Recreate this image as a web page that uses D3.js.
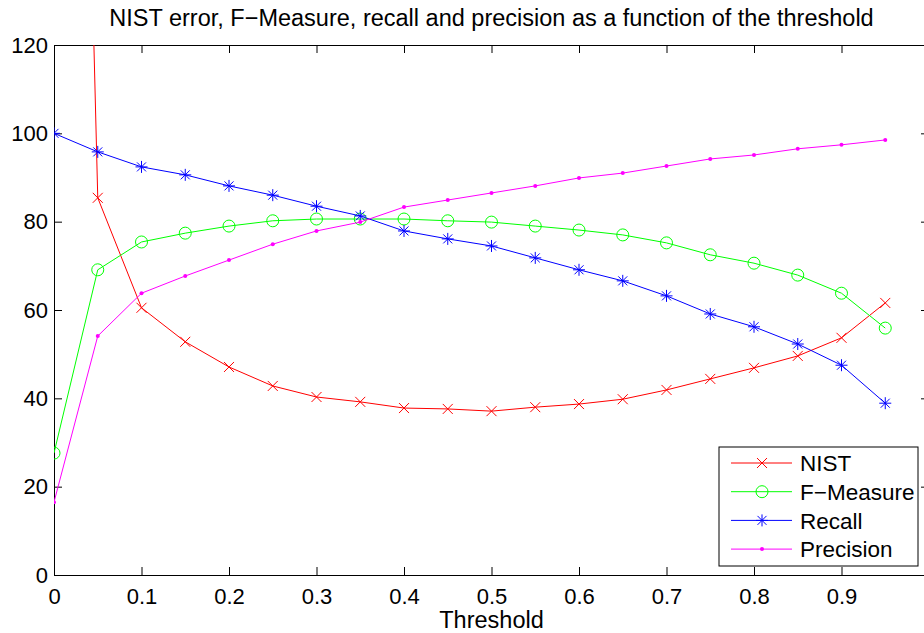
<!DOCTYPE html>
<meta charset="utf-8">
<style>
body { margin: 0; background: #fff; }
svg { display: block; font-family: "Liberation Sans", Arial, sans-serif; }
</style>
<body>
<svg width="924" height="633" id="vis"></svg>
<script src="https://d3js.org/d3.v7.min.js"></script>
<script>
var thresholds = [0, 0.05, 0.1, 0.15, 0.2, 0.25, 0.3, 0.35, 0.4, 0.45, 0.5,
                  0.55, 0.6, 0.65, 0.7, 0.75, 0.8, 0.85, 0.9, 0.95];
var nist      = [480, 85.4, 60.5, 52.8, 47.1, 42.8, 40.3, 39.2, 37.8, 37.6, 37.1,
                 38.0, 38.7, 39.8, 41.9, 44.4, 46.9, 49.6, 53.7, 61.6];
var fmeasure  = [27.6, 69.1, 75.4, 77.4, 79.0, 80.2, 80.6, 80.6, 80.6, 80.2, 79.9,
                 79.0, 78.1, 77.0, 75.2, 72.5, 70.6, 67.9, 63.8, 55.9];
var recall    = [100, 95.8, 92.4, 90.6, 88.1, 86.0, 83.5, 81.3, 77.9, 76.1, 74.5,
                 71.8, 69.1, 66.6, 63.2, 59.1, 56.2, 52.3, 47.5, 38.9];
var precision = [16.5, 54.1, 63.8, 67.7, 71.3, 74.9, 77.9, 79.9, 83.3, 84.9, 86.5,
                 88.1, 89.9, 91.0, 92.6, 94.2, 95.1, 96.5, 97.4, 98.5];
var xTicks = [0, 0.1, 0.2, 0.3, 0.4, 0.5, 0.6, 0.7, 0.8, 0.9, 1];
var yTicks = [0, 20, 40, 60, 80, 100, 120];

var series = [
  {name: "NIST", values: nist, color: "#ff0000", marker: "x"},
  {name: "F\u2212Measure", values: fmeasure, color: "#00ff00", marker: "o"},
  {name: "Recall", values: recall, color: "#0000ff", marker: "*"},
  {name: "Precision", values: precision, color: "#ff00ff", marker: "."}
];

var svg = d3.select("svg"),
    margin = {top: 45, right: -5, bottom: 58, left: 54},
    width = +svg.attr("width") - margin.left - margin.right,
    height = +svg.attr("height") - margin.top - margin.bottom;

var x = d3.scaleLinear().domain([0, 1]).range([0, width]);
var y = d3.scaleLinear().domain([0, 120]).range([height, 0]);

var g = svg.append("g")
    .attr("transform", "translate(" + margin.left + "," + margin.top + ")");

svg.append("defs").append("clipPath").attr("id", "clip")
  .append("rect").attr("width", width).attr("height", height);

// axes, ticks inside like matlab. the "1" label falls off the right edge, so leave it blank
var tickLen = 8;
g.append("g")
    .attr("transform", "translate(0," + height + ")")
    .call(d3.axisBottom(x).tickValues(xTicks).tickSizeInner(-tickLen).tickSizeOuter(0).tickPadding(13)
      .tickFormat(function(d){ return d === 1 ? "" : String(d); }));
g.append("g")
    .call(d3.axisTop(x).tickValues(xTicks).tickSizeInner(-tickLen).tickSizeOuter(0).tickFormat(""));
g.append("g")
    .call(d3.axisLeft(y).tickValues(yTicks).tickSizeInner(-tickLen).tickSizeOuter(0).tickPadding(6));
g.append("g")
    .attr("transform", "translate(" + width + ",0)")
    .call(d3.axisRight(y).tickValues(yTicks).tickSizeInner(-tickLen).tickSizeOuter(0).tickFormat(""));

g.selectAll(".domain").attr("stroke", "#000");
g.selectAll(".tick line").attr("stroke", "#000");
g.selectAll(".tick text").attr("font-size", 22).attr("fill", "#000")
    .attr("font-family", "'Liberation Sans', Arial, sans-serif");

function drawMarker(sel, type, color) {
  if (type === "x") {
    sel.append("path").attr("d", "M-5,-5L5,5M-5,5L5,-5")
      .attr("stroke", color).attr("fill", "none");
  } else if (type === "o") {
    sel.append("circle").attr("r", 6).attr("stroke", color).attr("fill", "none");
  } else if (type === "*") {
    sel.append("path").attr("d", "M-6,0L6,0M0,-6L0,6M-4.5,-4.5L4.5,4.5M-4.5,4.5L4.5,-4.5")
      .attr("stroke", color).attr("fill", "none");
  } else {
    sel.append("circle").attr("r", 2).attr("fill", color);
  }
}

var plot = g.append("g").attr("clip-path", "url(#clip)");
var line = d3.line()
    .x(function(d, i) { return x(thresholds[i]); })
    .y(function(d) { return y(d); });

series.forEach(function(s) {
  plot.append("path")
    .datum(s.values)
    .attr("fill", "none")
    .attr("stroke", s.color)
    .attr("stroke-width", 1)
    .attr("d", line);
  plot.selectAll(null).data(s.values).enter().append("g")
    .attr("transform", function(d, i) { return "translate(" + x(thresholds[i]) + "," + y(d) + ")"; })
    .each(function() { drawMarker(d3.select(this), s.marker, s.color); });
});

// title and label
svg.append("text")
    .attr("x", margin.left + x(0.5)).attr("y", 26)
    .attr("text-anchor", "middle").attr("font-size", 23.5)
    .text("NIST error, F\u2212Measure, recall and precision as a function of the threshold");
svg.append("text")
    .attr("x", margin.left + x(0.5)).attr("y", 628)
    .attr("text-anchor", "middle").attr("font-size", 23.5)
    .text("Threshold");

// legend
var legend = svg.append("g").attr("transform", "translate(719,447)");
legend.append("rect").attr("width", 199).attr("height", 119)
    .attr("fill", "#fff").attr("stroke", "#000");
series.forEach(function(s, i) {
  var ly = 16 + i * 28.7;
  var row = legend.append("g").attr("transform", "translate(0," + ly + ")");
  row.append("line").attr("x1", 12).attr("x2", 73).attr("stroke", s.color);
  var m = row.append("g").attr("transform", "translate(43,0)");
  drawMarker(m, s.marker, s.color);
  row.append("text").attr("x", 81).attr("dy", "0.36em").attr("font-size", 22.5).text(s.name);
});
</script>
</body>
